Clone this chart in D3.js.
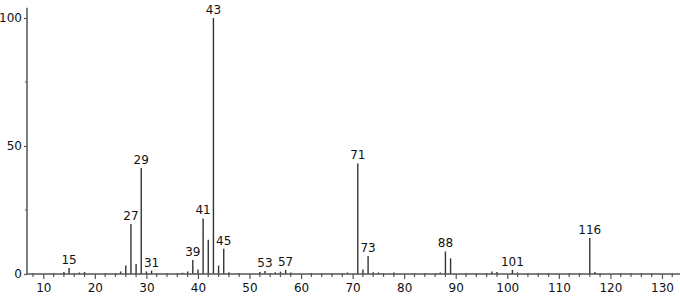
<!DOCTYPE html>
<html>
<head>
<meta charset="utf-8">
<script src="https://cdn.jsdelivr.net/npm/d3@7"></script>
<style>
  body { margin: 0; background: #fff; }
  text { font-family: "DejaVu Sans", sans-serif; font-size: 12px; fill: #111; }
</style>
</head>
<body>
<div id="chart"></div>
<script>
// m/z values and relative intensities
var mzValues = [14, 15, 17, 18, 25, 26, 27, 28, 29, 30, 31, 37, 38, 39, 40, 41, 42, 43, 44, 45, 46,
    52, 53, 55, 56, 57, 58, 69, 71, 72, 73, 74, 75, 78, 87, 88, 89, 97, 98, 101, 102, 116, 117];
var intensities = [0.8, 2.3, 0.6, 0.8, 1.0, 3.3, 19.5, 3.9, 41.4, 1.0, 1.3, 0.5, 1.0, 5.5, 1.8, 21.7, 13.4, 100, 3.3, 9.9, 0.7,
    0.8, 1.2, 0.7, 0.9, 1.6, 0.6, 0.6, 43.2, 1.8, 7.0, 0.7, 0.6, 0.6, 0.6, 8.8, 6.1, 1.0, 0.8, 1.6, 0.6, 14.1, 0.8];
// peaks that carry a label
var labelledPeaks = [15, 27, 29, 31, 39, 41, 43, 45, 53, 57, 71, 73, 88, 101, 116];

var xTicks = [10, 20, 30, 40, 50, 60, 70, 80, 90, 100, 110, 120, 130];
var yTicks = [0, 50, 100];

var width = 680,
    height = 296;

var x = d3.scaleLinear()
    .domain([6.84, 133.5])
    .range([27, 680]);

var y = d3.scaleLinear()
    .domain([0, 100])
    .range([274, 18]);

var svg = d3.select("#chart").append("svg")
    .attr("width", width)
    .attr("height", height);

var peaks = mzValues.map(function (m, i) { return { mz: m, v: intensities[i] }; });

// sticks
svg.selectAll(".peak")
    .data(peaks)
    .enter().append("line")
    .attr("class", "peak")
    .attr("x1", d => x(d.mz))
    .attr("x2", d => x(d.mz))
    .attr("y1", y(0))
    .attr("y2", d => y(d.v))
    .style("stroke", "#333")
    .style("stroke-width", 1.4);

// peak labels
svg.selectAll(".plabel")
    .data(peaks.filter(d => labelledPeaks.indexOf(d.mz) >= 0))
    .enter().append("text")
    .attr("class", "plabel")
    .attr("x", d => x(d.mz))
    .attr("y", d => y(d.v) - 4)
    .attr("text-anchor", "middle")
    .text(d => d.mz);

// x axis: labelled every 10, minor ticks every 2
var xAxis = d3.axisBottom(x)
    .tickValues(xTicks)
    .tickSize(5)
    .tickPadding(4)
    .tickFormat(d => String(d));

var gx = svg.append("g")
    .attr("transform", "translate(0," + y(0) + ")")
    .call(xAxis);

gx.append("g")
    .attr("class", "minor")
    .selectAll("line")
    .data(d3.range(8, 134, 2).filter(d => d % 10 !== 0))
    .enter().append("line")
    .attr("x1", d => x(d))
    .attr("x2", d => x(d))
    .attr("y1", -1)
    .attr("y2", 3);

// y axis
var yAxis = d3.axisLeft(y)
    .tickValues(yTicks)
    .tickSize(3)
    .tickPadding(2);

var gy = svg.append("g")
    .attr("transform", "translate(" + x(6.84) + ",0)")
    .call(yAxis);

gy.append("g")
    .attr("class", "minor")
    .selectAll("line")
    .data([25, 75])
    .enter().append("line")
    .attr("x1", -2)
    .attr("x2", 0)
    .attr("y1", d => y(d))
    .attr("y2", d => y(d));

gx.select(".domain").remove();
gy.select(".domain").remove();

// axis lines
svg.append("line")
    .attr("x1", x(6.84)).attr("x2", x(133.5))
    .attr("y1", y(0)).attr("y2", y(0))
    .style("stroke", "#555").style("stroke-width", 1.5);
svg.append("line")
    .attr("x1", x(6.84)).attr("x2", x(6.84))
    .attr("y1", y(0)).attr("y2", y(104))
    .style("stroke", "#555").style("stroke-width", 1.5);

svg.selectAll(".tick line, .minor line")
    .style("stroke", "#555")
    .style("stroke-width", 1.2);
svg.selectAll(".tick text")
    .style("font-family", "'DejaVu Sans', sans-serif")
    .style("font-size", "12px")
    .style("fill", "#111");
</script>
</body>
</html>
